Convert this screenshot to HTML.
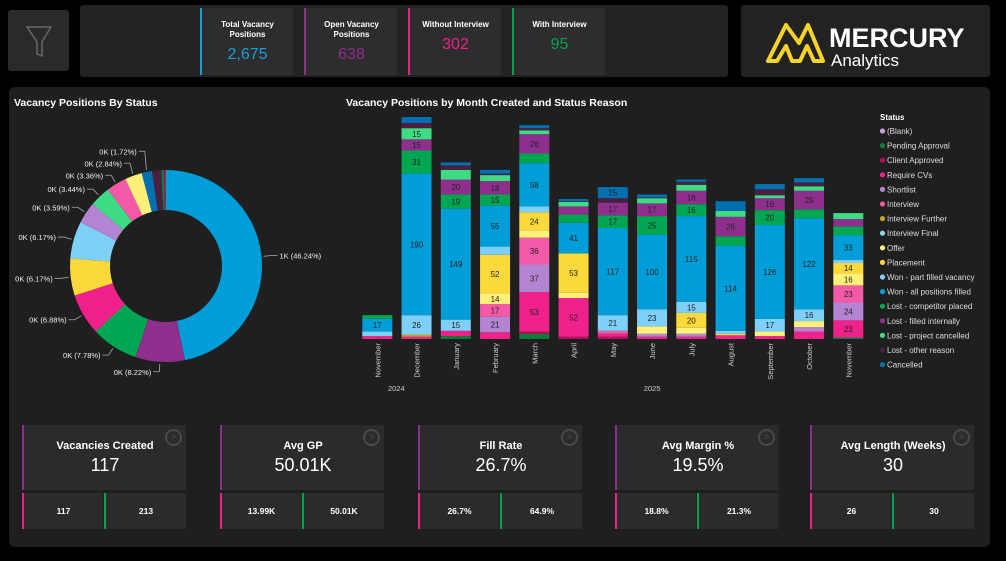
<!DOCTYPE html>
<html><head><meta charset="utf-8">
<style>
*{box-sizing:border-box;margin:0;padding:0}
body{width:1006px;height:561px;background:#000;font-family:"Liberation Sans",sans-serif;color:#fff;position:relative;overflow:hidden}
.abs{position:absolute}
.kpi{position:absolute;top:8px;width:93px;height:67px;background:#2d2d2d;text-align:center}
.kpi .t{font-size:8px;font-weight:bold;margin-top:12px;line-height:10px;height:22px}
.kpi .v{font-size:16px;margin-top:4px}
.card{position:absolute;width:164px}
.card .top{position:absolute;left:0;top:0;width:164px;height:65px;background:#2b2b2b;border-left:2px solid #8e2f8e;text-align:center}
.card .top .t{font-size:11px;font-weight:bold;margin-top:15px}
.card .top .v{font-size:18px;margin-top:3px}
.card .b{position:absolute;top:68px;height:36px;background:#2b2b2b;font-size:8.5px;font-weight:bold;text-align:center;line-height:36px}
.card .arrow{position:absolute;right:4px;top:4px;width:17px;height:17px;border:2px solid #4a4a4a;border-radius:50%;color:#4a4a4a;font-size:10px;line-height:13px;text-align:center}
</style></head><body>
<div class="abs" style="left:8px;top:10px;width:61px;height:61px;background:#2a2a2a;border-radius:3px">
<svg width="61" height="61"><path d="M19,17 L43,17 L34,32 L34,46 L29,44 L29,32 Z" fill="none" stroke="#666" stroke-width="1.5"/></svg></div>
<div class="abs" style="left:80px;top:5px;width:648px;height:72px;background:#222;border-radius:3px"></div>
<div class="kpi" style="left:200px;border-left:2px solid #1a9fd8"><div class="t">Total Vacancy<br>Positions</div><div class="v" style="color:#1a9fd8">2,675</div></div>
<div class="kpi" style="left:304px;border-left:2px solid #8e2f8e"><div class="t">Open Vacancy<br>Positions</div><div class="v" style="color:#8e2f8e">638</div></div>
<div class="kpi" style="left:408px;border-left:2px solid #f0218a"><div class="t">Without Interview</div><div class="v" style="color:#f0218a;margin-top:-6px">302</div></div>
<div class="kpi" style="left:512px;border-left:2px solid #00a651"><div class="t">With Interview</div><div class="v" style="color:#00a651;margin-top:-6px">95</div></div>
<div class="abs" style="left:741px;top:5px;width:249px;height:72px;background:#222;border-radius:3px">
<svg width="249" height="72">
<path d="M27,56 L45,20 L58,38 L67,20 L82,56 L73,56 L66,41 L59,56 L51,56 L45,41 L36,56 Z" fill="none" stroke="#f5d328" stroke-width="4" stroke-linejoin="round"/>
<text x="88" y="42" font-size="27" font-weight="bold" fill="#fff">MERCURY</text>
<text x="90" y="61" font-size="17" fill="#fff">Analytics</text>
</svg></div>
<div class="abs" style="left:9px;top:87px;width:981px;height:460px;background:#1f1f1f;border-radius:6px"></div>
<div class="abs" style="left:14px;top:97px;font-size:10.5px;font-weight:bold">Vacancy Positions By Status</div>
<div class="abs" style="left:346px;top:97px;font-size:10.5px;font-weight:bold">Vacancy Positions by Month Created and Status Reason</div>
<svg class="abs" id="chart" style="left:0;top:0" width="1006" height="561"></svg>

<div class="card" style="left:22px;top:425px"><div class="top"><div class="t">Vacancies Created</div><div class="v">117</div><div class="arrow">&gt;</div></div><div class="b" style="left:0;width:81px;border-left:2px solid #f0218a">117</div><div class="b" style="left:82px;width:82px;border-left:2px solid #00a651">213</div></div>
<div class="card" style="left:220px;top:425px"><div class="top"><div class="t">Avg GP</div><div class="v">50.01K</div><div class="arrow">&gt;</div></div><div class="b" style="left:0;width:81px;border-left:2px solid #f0218a">13.99K</div><div class="b" style="left:82px;width:82px;border-left:2px solid #00a651">50.01K</div></div>
<div class="card" style="left:418px;top:425px"><div class="top"><div class="t">Fill Rate</div><div class="v">26.7%</div><div class="arrow">&gt;</div></div><div class="b" style="left:0;width:81px;border-left:2px solid #f0218a">26.7%</div><div class="b" style="left:82px;width:82px;border-left:2px solid #00a651">64.9%</div></div>
<div class="card" style="left:615px;top:425px"><div class="top"><div class="t">Avg Margin %</div><div class="v">19.5%</div><div class="arrow">&gt;</div></div><div class="b" style="left:0;width:81px;border-left:2px solid #f0218a">18.8%</div><div class="b" style="left:82px;width:82px;border-left:2px solid #00a651">21.3%</div></div>
<div class="card" style="left:810px;top:425px"><div class="top"><div class="t">Avg Length (Weeks)</div><div class="v">30</div><div class="arrow">&gt;</div></div><div class="b" style="left:0;width:81px;border-left:2px solid #f0218a">26</div><div class="b" style="left:82px;width:82px;border-left:2px solid #00a651">30</div></div>

<script>
const months=["November","December","January","February","March","April","May","June","July","August","September","October","November"];
const statusNames=["(Blank)","Pending Approval","Client Approved","Require CVs","Shortlist","Interview","Interview Further","Interview Final","Offer","Placement","Won - part filled vacancy","Won - all positions filled","Lost - competitor placed","Lost - filled internally","Lost - project cancelled","Lost - other reason","Cancelled"];
const statusColors=["#c9a0dc","#0e7a3e","#b0125a","#f0218a","#b284d1","#f25aa7","#c8a12a","#8fd3e8","#fff07a","#fcd93a","#7fd0f8","#009ed8","#00a651","#8e2f8e","#3ddc84","#4a2040","#0070b0"];
const blank=[0,0,0,0,0,0,0,0,0,0,0,0,0];
const pending=[0,0,4,0,7,0,0,0,0,0,0,0,2];
const clientApproved=[0,0,0,0,3,3,3,0,0,0,0,0,0];
const requireCVs=[4,3,7,9,53,52,4,3,3,5,4,10,23];
const shortlist=[0,0,0,21,37,0,0,4,4,0,0,6,24];
const interview=[0,0,0,17,36,0,4,0,0,0,0,0,23];
const interviewFurther=[0,3,0,0,0,0,0,0,0,0,0,0,0];
const interviewFinal=[0,0,0,0,0,0,0,0,0,0,0,0,0];
const offer=[0,0,0,14,10,7,0,10,8,0,6,8,16];
const placement=[0,0,0,52,24,53,0,0,20,2,0,0,14];
const wonPart=[6,26,15,11,8,0,21,23,15,4,17,16,4];
const wonAll=[17,190,149,55,58,41,117,100,115,114,126,122,33];
const lostCompetitor=[5,31,19,15,13,11,17,25,16,13,20,12,12];
const lostInternal=[0,15,20,18,26,11,17,17,18,26,16,25,10];
const lostProject=[0,15,13,8,5,6,0,7,8,8,4,6,8];
const lostOther=[0,7,6,2,3,1,6,1,4,0,8,5,0];
const cancelled=[0,8,4,5,4,3,15,4,3,13,7,6,0];
const series=[blank,pending,clientApproved,requireCVs,shortlist,interview,interviewFurther,interviewFinal,offer,placement,wonPart,wonAll,lostCompetitor,lostInternal,lostProject,lostOther,cancelled];
const yearLabels=["2024","2025"];
const yearStartIdx=[0,2];
const donutLabels=["Won - all positions filled","Lost - filled internally","Lost - competitor placed","Require CVs","Placement","Won - part filled vacancy","Shortlist","Lost - project cancelled","Interview","Offer","Cancelled","Lost - other reason","Pending Approval","Client Approved"];
const donutPct=[46.24,8.22,7.78,6.88,6.17,6.17,3.59,3.44,3.36,2.84,1.72,1.5,0.5,0.3];
const donutText=["1K","0K","0K","0K","0K","0K","0K","0K","0K","0K","0K","0K","0K","0K"];

const svg=document.getElementById('chart');
const NS="http://www.w3.org/2000/svg";
function mk(t,a){const e=document.createElementNS(NS,t);for(const k in a)e.setAttribute(k,a[k]);svg.appendChild(e);return e;}
const baseY=339, ppu=0.745, x0=377.3, step=39.25, bw=30;
const xS=i=>x0+i*step;
const yS=v=>baseY-v*ppu;
months.forEach((m,i)=>{
  let cum=0;
  series.forEach((s,k)=>{
    const v=s[i]; if(!v) return;
    const r=mk('rect',{x:xS(i)-bw/2,y:yS(cum+v),width:bw,height:v*ppu,fill:statusColors[k]});
    
    
    if(v>=14){const t=mk('text',{x:xS(i),y:yS(cum+v/2)+3,'text-anchor':'middle','font-size':'8',fill:'#222'});t.textContent=v;
      
      }
    cum+=v;
  });
  const t=mk('text',{transform:`translate(${xS(i)+3},343) rotate(-90)`,'text-anchor':'end','font-size':'7.5',fill:'#ccc'});t.textContent=m;
  
  
});
yearLabels.forEach((y,j)=>{
  const t=mk('text',{x:j==0?xS(yearStartIdx[j])+19:xS(7),y:391,'text-anchor':'middle','font-size':'7.5',fill:'#ccc'});t.textContent=y;
  
  
});
const lt=mk('text',{x:880,y:120,'font-size':'8','font-weight':'bold',fill:'#fff'});lt.textContent='Status';


statusNames.forEach((n,k)=>{
  const y=131+k*14.6;
  const c=mk('circle',{cx:882.5,cy:y,r:2.6,fill:statusColors[k]});
  
  
  const t=mk('text',{x:887,y:y+3,'font-size':'8',fill:'#ddd'});t.textContent=n;
  
  
});
// donut
const cx=166,cy=266,R=96,r0=56;
const total=donutPct.reduce((a,b)=>a+b,0);
const pt=(rr,a)=>[cx+rr*Math.sin(a),cy-rr*Math.cos(a)];
let a0=0;
const labs=[];
donutPct.forEach((p,i)=>{
  const a1=a0+p/total*2*Math.PI;
  const [x1,y1]=pt(R,a0),[x2,y2]=pt(R,a1),[x3,y3]=pt(r0,a1),[x4,y4]=pt(r0,a0);
  const lg=(a1-a0)>Math.PI?1:0;
  const col=statusColors[statusNames.indexOf(donutLabels[i])];
  const s=mk('path',{d:`M${x1},${y1} A${R},${R} 0 ${lg} 1 ${x2},${y2} L${x3},${y3} A${r0},${r0} 0 ${lg} 0 ${x4},${y4} Z`,fill:col});
  
  
  if(p>=1.7) labs.push({i,p,am:(a0+a1)/2});
  a0=a1;
});
// left-side labels: spread vertically (from bottom upward)
const leftL=labs.filter(l=>Math.sin(l.am)<=0).map(l=>{const [x,y]=pt(R+10,l.am);return Object.assign(l,{ly:y});}).sort((a,b)=>b.ly-a.ly);
let lastY=1e9;
leftL.forEach(l=>{ if(l.ly>lastY-12) l.ly=lastY-12; lastY=l.ly; });
labs.forEach(l=>{
  const right=Math.sin(l.am)>0;
  const [lx1,ly1]=pt(R+2,l.am);
  let [lx2,ly2]=pt(R+10,l.am);
  if(!right) ly2=l.ly;
  const lx3=lx2+(right?6:-6);
  const ln=mk('polyline',{points:`${lx1},${ly1} ${lx2},${ly2} ${lx3},${ly2}`,fill:'none',stroke:'#aaa','stroke-width':'0.8'});
  
  
  const t=mk('text',{x:lx3+(right?2:-2),y:ly2+3,'text-anchor':right?'start':'end','font-size':'7.5',fill:'#eee'});
  t.textContent=donutText[l.i]+' ('+l.p.toFixed(2)+'%)';
  
  
});
</script>
</body></html>
